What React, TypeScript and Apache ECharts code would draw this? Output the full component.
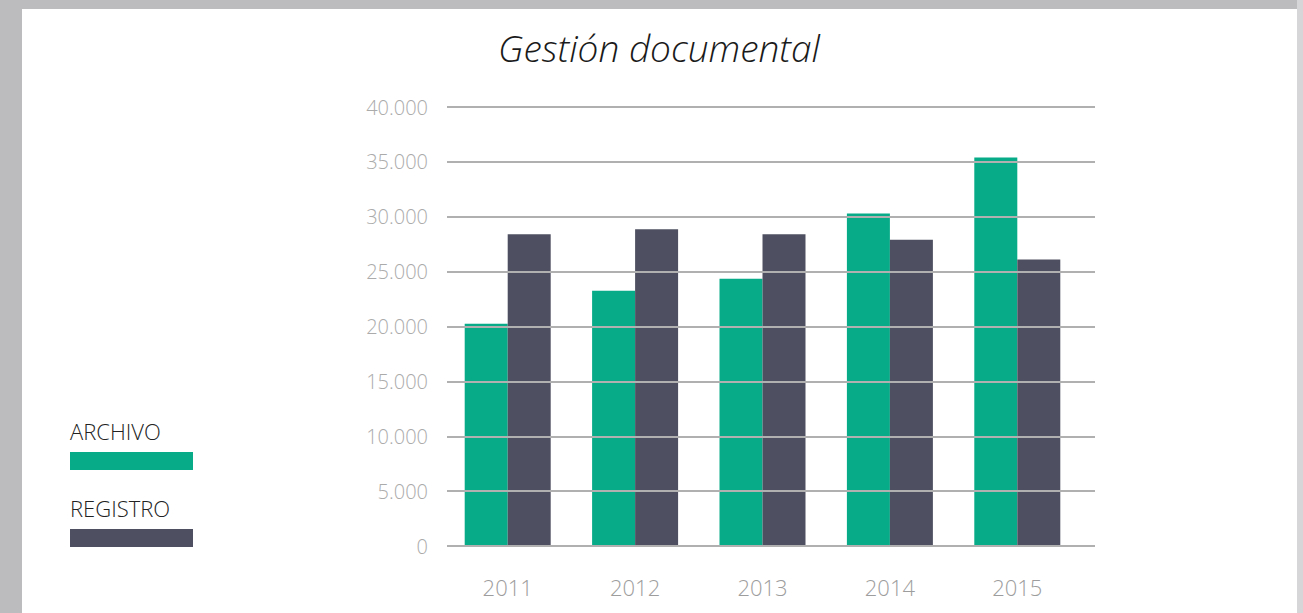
import React, { useEffect, useRef } from "react";
import * as echarts from "echarts";

const years = ["2011", "2012", "2013", "2014", "2015"];
const archivo = [20250, 23250, 24350, 30300, 35400];
const registro = [28400, 28850, 28400, 27900, 26100];
const seriesNames = ["ARCHIVO", "REGISTRO"];
const seriesColors = ["#07ab88", "#4e5061"];
const titleText = "Gestión documental";

const fmt = (v: number) => (v === 0 ? "0" : v.toLocaleString("de-DE"));

export default function App() {
  const ref = useRef<HTMLDivElement>(null);
  useEffect(() => {
    document.body.style.margin = "0";
    const chart = echarts.init(ref.current!, null, { renderer: "svg" });
    const font = "'Open Sans', sans-serif";
    chart.setOption({
      animation: false,
      backgroundColor: "#bcbcbe",
      graphic: [
        { type: "rect", z: -10, shape: { x: 1297, y: 0, width: 6, height: 613 }, style: { fill: "#d6d6d8" } },
        { type: "rect", z: -9, shape: { x: 22, y: 9, width: 1275, height: 604 }, style: { fill: "#ffffff" } },
        {
          type: "text", z: 10, x: 659, y: 47,
          style: { text: titleText, fill: "#1a1a1a", font: `italic 300 37px ${font}`, textAlign: "center", textVerticalAlign: "middle" },
        },
        {
          type: "text", z: 10, x: 70, y: 431,
          style: { text: seriesNames[0], fill: "#222", font: `300 22px ${font}`, textAlign: "left", textVerticalAlign: "middle" },
        },
        { type: "rect", z: 10, shape: { x: 70, y: 452, width: 123, height: 18 }, style: { fill: seriesColors[0] } },
        {
          type: "text", z: 10, x: 70, y: 508,
          style: { text: seriesNames[1], fill: "#222", font: `300 22px ${font}`, textAlign: "left", textVerticalAlign: "middle" },
        },
        { type: "rect", z: 10, shape: { x: 70, y: 529, width: 123, height: 18 }, style: { fill: seriesColors[1] } },
      ],
      grid: [
        { left: 444, width: 637, top: 107, height: 439 },
        { left: 447, width: 648, top: 107, height: 439 },
      ],
      xAxis: [
        {
          type: "category", gridIndex: 0, data: years,
          axisLine: { show: false }, axisTick: { show: false },
          axisLabel: { color: "#9d9d9d", fontFamily: font, fontWeight: 300, fontSize: 22, margin: 30 },
        },
        { type: "value", gridIndex: 1, min: 0, max: 1, show: false },
      ],
      yAxis: [
        { type: "value", gridIndex: 0, min: 0, max: 40000, interval: 5000, show: false },
        {
          type: "value", gridIndex: 1, min: 0, max: 40000, interval: 5000, z: 5,
          axisLine: { show: false }, axisTick: { show: false },
          splitLine: { show: true, lineStyle: { color: "#b0b0b0", width: 2 } },
          axisLabel: { color: "#ababab", fontFamily: font, fontWeight: 300, fontSize: 20, margin: 19, formatter: fmt },
        },
      ],
      series: [
        {
          type: "bar", name: seriesNames[0], data: archivo, xAxisIndex: 0, yAxisIndex: 0,
          barWidth: 43, barGap: "0%", itemStyle: { color: seriesColors[0] },
        },
        {
          type: "bar", name: seriesNames[1], data: registro, xAxisIndex: 0, yAxisIndex: 0,
          barWidth: 43, barGap: "0%", itemStyle: { color: seriesColors[1] },
        },
      ],
    });
    return () => chart.dispose();
  }, []);
  return <div ref={ref} style={{ width: 1303, height: 613 }} />;
}
